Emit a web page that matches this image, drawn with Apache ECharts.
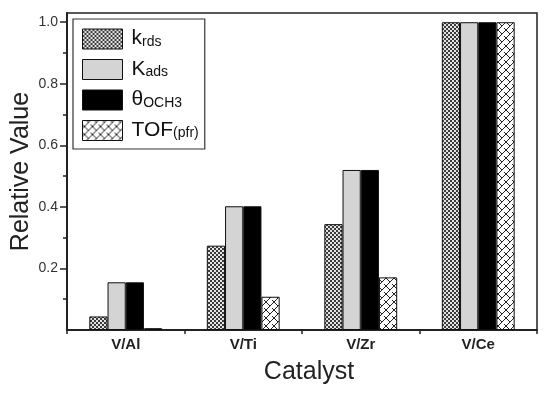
<!DOCTYPE html>
<html>
<head>
<meta charset="utf-8">
<script src="https://cdn.jsdelivr.net/npm/echarts@6/dist/echarts.min.js"></script>
<style>html,body{margin:0;padding:0;background:#fff}#c{width:550px;height:395px}</style>
</head>
<body>
<div id="c"></div>
<script>
var categories = ['V/Al', 'V/Ti', 'V/Zr', 'V/Ce'];
var seriesNames = ['krds', 'Kads', 'theta', 'TOF'];
var krds = [0.044, 0.274, 0.344, 1.0];
var Kads = [0.155, 0.402, 0.520, 1.0];
var theta = [0.155, 0.402, 0.520, 1.0];
var tof = [0.006, 0.108, 0.171, 1.0];
var yLabelValues = [0.2, 0.4, 0.6, 0.8, 1.0];
var yMinorValues = [0.1, 0.2, 0.3, 0.4, 0.5, 0.6, 0.7, 0.8, 0.9, 1.0];

function makeChecker() {
  var c = document.createElement('canvas'); c.width = 4; c.height = 4;
  var g = c.getContext('2d');
  g.fillStyle = '#3c3c3c'; g.fillRect(0, 0, 4, 4);
  g.fillStyle = '#e2e2e2'; g.fillRect(0, 0, 2, 2); g.fillRect(2, 2, 2, 2);
  return c;
}
function makeHatch() {
  var c = document.createElement('canvas'); c.width = 8; c.height = 8;
  var g = c.getContext('2d');
  g.fillStyle = '#fff'; g.fillRect(0, 0, 8, 8);
  g.strokeStyle = '#222'; g.lineWidth = 1;
  g.beginPath();
  g.moveTo(-1, 9); g.lineTo(9, -1);
  g.moveTo(0, 4); g.lineTo(4, 8);
  g.moveTo(4, 0); g.lineTo(6, 2);
  g.stroke();
  return c;
}
var pats = [
  { image: makeChecker(), repeat: 'repeat' },
  '#d4d4d4',
  '#000000',
  { image: makeHatch(), repeat: 'repeat' }
];
var dataArr = [krds, Kads, theta, tof];

var chart = echarts.init(document.getElementById('c'), null, { renderer: 'canvas' });
var series = seriesNames.map(function (n, i) {
  return {
    name: n, type: 'bar', data: dataArr[i], barGap: '0%', barCategoryGap: '38%',
    itemStyle: { color: pats[i], borderColor: '#111', borderWidth: 1 },
    emphasis: { disabled: true }
  };
});

var FF = 'Liberation Sans';
var sub = { m: { fontSize: 21, color: '#111', fontFamily: FF, lineHeight: 20, verticalAlign: 'bottom' },
  s: { fontSize: 14, color: '#111', fontFamily: FF, lineHeight: 6, verticalAlign: 'bottom' } };

chart.setOption({
  animation: false,
  grid: { left: 67, right: 13, top: 13, bottom: 65, show: true, borderColor: '#222', borderWidth: 1.5,
    backgroundColor: 'transparent', outerBoundsMode: 'none', containLabel: false },
  legend: {
    orient: 'vertical', left: 73, top: 19, padding: [9, 6, 8, 9],
    borderColor: '#333', borderWidth: 1.2, borderRadius: 0,
    icon: 'rect',
    itemWidth: 40, itemHeight: 20, itemGap: 9,
    data: seriesNames,
    itemStyle: { borderColor: '#111', borderWidth: 1 },
    formatter: function (n) {
      if (n === 'krds') return '{m|k}{s|rds}';
      if (n === 'Kads') return '{m|K}{s|ads}';
      if (n === 'theta') return '{m|θ}{s|OCH3}';
      return '{m|TOF}{s|(pfr)}';
    },
    textStyle: { rich: sub, padding: [0, 0, 0, 4] }
  },
  xAxis: {
    type: 'category', data: categories,
    name: 'Catalyst', nameLocation: 'middle', nameGap: 30,
    nameTextStyle: { fontSize: 25, color: '#222', fontFamily: FF, padding: [0, 0, 0, 14] },
    axisLine: { lineStyle: { color: '#222', width: 2 } },
    axisTick: { show: true, length: 4, inside: false, lineStyle: { color: '#222', width: 1.5 } },
    axisLabel: { fontSize: 15, fontWeight: 'bold', color: '#222', margin: 7, fontFamily: FF },
    splitLine: { show: false }
  },
  yAxis: [{
    type: 'value', min: 0, max: 1.03,
    name: 'Relative Value', nameLocation: 'middle', nameGap: 33,
    nameTextStyle: { fontSize: 25, color: '#222', fontFamily: FF },
    axisLine: { show: true, lineStyle: { color: '#222', width: 2 } },
    axisTick: { show: true, length: 4, customValues: yMinorValues, lineStyle: { color: '#222', width: 1.5 } },
    axisLabel: { show: false },
    splitLine: { show: false }
  }, {
    type: 'value', min: 0, max: 1.03, position: 'left',
    axisLine: { show: false },
    axisTick: { show: true, length: 7, customValues: yLabelValues, lineStyle: { color: '#222', width: 1.5 } },
    axisLabel: { show: true, customValues: yLabelValues, fontSize: 14, color: '#333', margin: 9, fontFamily: FF,
      formatter: function (v) { return v.toFixed(1); } },
    splitLine: { show: false }
  }],
  series: series
});
</script>
</body>
</html>
